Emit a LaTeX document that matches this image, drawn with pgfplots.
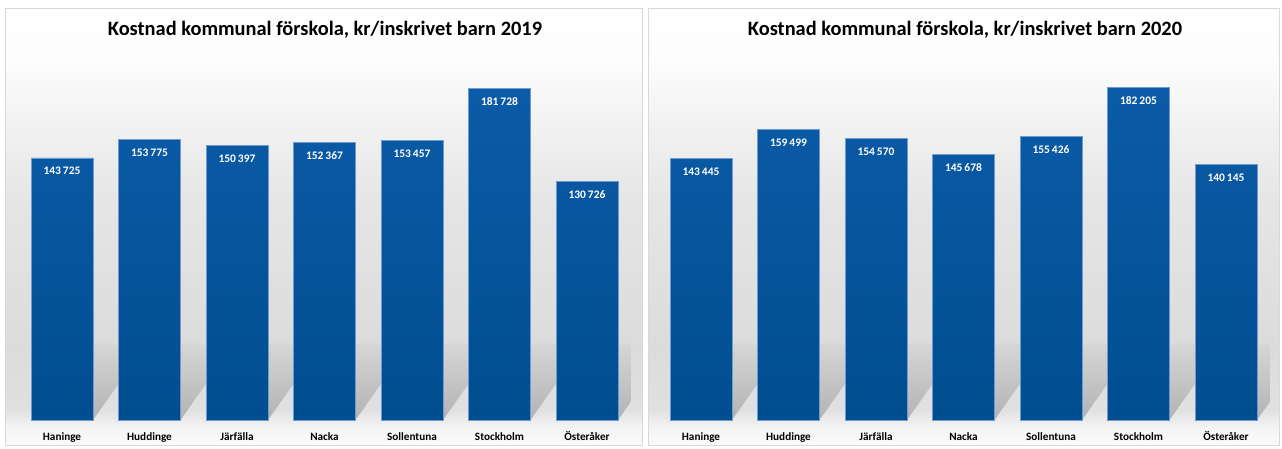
\documentclass[border=0pt]{standalone}
\usepackage{pgfplots}
\pgfplotsset{compat=1.18}
\usepackage{fontspec}
\setmainfont{Carlito}

\definecolor{barTop}{RGB}{12,91,168}
\definecolor{barBot}{RGB}{0,77,143}
\definecolor{barEdge}{RGB}{110,155,208}
\definecolor{panelEdge}{RGB}{217,217,217}

% stops between 25bp and 75bp map onto the panel height
\pgfdeclareverticalshading{panelbg}{100bp}{color(0bp)=(black!2); color(25bp)=(black!2);
  color(27bp)=(black!4); color(29bp)=(black!12); color(36bp)=(black!14);
  color(53bp)=(black!10); color(62bp)=(black!5); color(69bp)=(black!1);
  color(75bp)=(white); color(100bp)=(white)}

\pgfplotsset{
  kommun/.style={
    scale only axis, width=612.5pt, height=364.6pt,
    anchor=south west,
    xmin=-0.5, xmax=6.5, ymin=0, ymax=200000,
    axis line style={draw=none}, tick style={draw=none},
    ytick=\empty, xtick={0,...,6},
    xticklabels={Haninge,Huddinge,Järfälla,Nacka,Sollentuna,Stockholm,Österåker},
    xticklabel style={font=\bfseries\fontsize{11.2}{13}\selectfont, anchor=base, yshift=-20pt},
  },
  kbar/.style={
    ybar, bar width=62pt,
    draw=barEdge, line width=0.7pt,
    top color=barTop, bottom color=barBot,
    nodes near coords={\pgfmathprintnumber[fixed, precision=0, 1000 sep={\,}, assume math mode=true]{\pgfplotspointmeta}},
    every node near coord/.append style={font=\bfseries\fontsize{11.5}{13}\selectfont,
      text=white, anchor=base, yshift=-17pt},
  },
  kshadow/.style={draw=none, top color=black!16, middle color=black!22, bottom color=black!30},
}

\pgfplotstableread{
x  y
0  143725
1  153775
2  150397
3  152367
4  153457
5  181728
6  130726
}\tabA
\pgfplotstableread{
x  y
0  143445
1  159499
2  154570
3  145678
4  155426
5  182205
6  140145
}\tabB

\begin{document}
\begin{tikzpicture}
\fill[white] (0pt,0pt) rectangle (1282pt,448pt);
\shade[shading=panelbg, draw=panelEdge, line width=0.8pt] (5pt,3pt) rectangle (642pt,440pt);
\shade[shading=panelbg, draw=panelEdge, line width=0.8pt] (648pt,3pt) rectangle (1279pt,440pt);

\node[font=\bfseries\fontsize{20.4}{23}\selectfont] at (325pt,418pt) {Kostnad kommunal förskola, kr/inskrivet barn 2019};
\node[font=\bfseries\fontsize{20.4}{23}\selectfont] at (965pt,418pt) {Kostnad kommunal förskola, kr/inskrivet barn 2020};

\begin{axis}[kommun, at={(18.25pt,28pt)}]
\addplot[kshadow] coordinates {
(-0.354,0) (0.354,0) (0.971,42000) (0.263,42000) (-0.354,0)

(0.646,0) (1.354,0) (1.971,42000) (1.263,42000) (0.646,0)

(1.646,0) (2.354,0) (2.971,42000) (2.263,42000) (1.646,0)

(2.646,0) (3.354,0) (3.971,42000) (3.263,42000) (2.646,0)

(3.646,0) (4.354,0) (4.971,42000) (4.263,42000) (3.646,0)

(4.646,0) (5.354,0) (5.971,42000) (5.263,42000) (4.646,0)

(5.646,0) (6.354,0) (6.971,42000) (6.263,42000) (5.646,0)
};
\addplot[kbar] table[x=x, y=y] {\tabA};
\end{axis}

\begin{axis}[kommun, at={(657.25pt,28pt)}]
\addplot[kshadow] coordinates {
(-0.354,0) (0.354,0) (0.971,42000) (0.263,42000) (-0.354,0)

(0.646,0) (1.354,0) (1.971,42000) (1.263,42000) (0.646,0)

(1.646,0) (2.354,0) (2.971,42000) (2.263,42000) (1.646,0)

(2.646,0) (3.354,0) (3.971,42000) (3.263,42000) (2.646,0)

(3.646,0) (4.354,0) (4.971,42000) (4.263,42000) (3.646,0)

(4.646,0) (5.354,0) (5.971,42000) (5.263,42000) (4.646,0)

(5.646,0) (6.354,0) (6.971,42000) (6.263,42000) (5.646,0)
};
\addplot[kbar] table[x=x, y=y] {\tabB};
\end{axis}
\end{tikzpicture}
\end{document}
